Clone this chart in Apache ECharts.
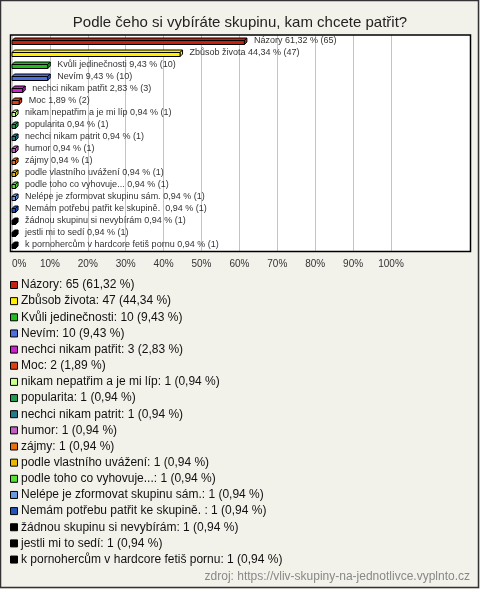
<!DOCTYPE html>
<html><head><meta charset="utf-8">
<script src="https://cdn.jsdelivr.net/npm/echarts@6/dist/echarts.min.js"></script>
<style>html,body{margin:0;padding:0;background:#f3f2ea;}#c{width:480px;height:589px;}</style>
</head><body><div id="c"></div>
<script>
const titleText = 'Podle čeho si vybíráte skupinu, kam chcete patřit?';
const sourceText = 'zdroj: https://vliv-skupiny-na-jednotlivce.vyplnto.cz';
const categories = ['Názory','Zbůsob života','Kvůli jedinečnosti','Nevím','nechci nikam patřit','Moc','nikam nepatřim a je mi líp','popularita','nechci nikam patrit','humor','zájmy','podle vlastního uvážení','podle toho co vyhovuje...','Nelépe je zformovat skupinu sám.','Nemám potřebu patřit ke skupině. ','žádnou skupinu si nevybírám','jestli mi to sedí','k pornohercům v hardcore fetiš pornu'];
const counts = [65,47,10,10,3,2,1,1,1,1,1,1,1,1,1,1,1,1];
const percents = [61.32,44.34,9.43,9.43,2.83,1.89,0.94,0.94,0.94,0.94,0.94,0.94,0.94,0.94,0.94,0.94,0.94,0.94];
const colors = ['#c8200e','#ffee00','#22bb22','#4a6fe0','#cc22cc','#e04010','#ccff88','#229955','#227a8a','#c060c0','#e87010','#e8b800','#55e033','#6a9ae0','#2255bb','#000000','#000000','#000000'];
const xTicks = [0,10,20,30,40,50,60,70,80,90,100];

const fmt = v => v.toFixed(2).replace('.', ',');
const chart = echarts.init(document.getElementById('c'), null, {renderer:'canvas'});

function renderBar(params, api) {
  const v = api.value(0), ci = api.value(1);
  const p0 = api.coord([0, ci]);
  const p1 = api.coord([v, ci]);
  const c = p0[1];
  const x0 = p0[0], x1 = p1[0];
  const d = 2.5;
  const yT = c - 0.5, yB = c + 3.5;
  const col = api.visual('color');
  const st = {fill: col, stroke: '#000', lineWidth: 1};
  return {type:'group', children:[
    {type:'polygon', shape:{points:[[x0,yT],[x0+d,yT-d],[x1+d,yT-d],[x1,yT]]}, style: st},
    {type:'polygon', shape:{points:[[x1,yT],[x1+d,yT-d],[x1+d,yB-d],[x1,yB]]}, style: st},
    {type:'rect', shape:{x:x0, y:yT, width:x1-x0, height:yB-yT}, style: st},
    {type:'text', x: x1 + d + 7, y: c, style:{text: categories[ci] + ' ' + fmt(v) + ' % (' + counts[ci] + ')', fill:'#333', font:'9px "Liberation Sans", Arial, sans-serif', verticalAlign:'middle', align:'left'}}
  ]};
}

const series = categories.map((name, i) => ({
  type: 'custom',
  name: name,
  renderItem: renderBar,
  itemStyle: {color: colors[i]},
  encode: {x: 0, y: 1},
  data: [[percents[i], i]],
  silent: true,
  clip: false
}));

chart.setOption({
  backgroundColor: '#f3f2ea',
  animation: false,
  title: {text: titleText, left: 'center', top: 10, textStyle:{fontFamily:'"Liberation Sans", Arial, sans-serif', fontSize:15, fontWeight:'normal', color:'#222'}},
  grid: {left: 12, top: 35, width: 379, height: 216},
  xAxis: {type:'value', min:0, max:100, interval:10,
    axisLine:{show:false}, axisTick:{show:false},
    splitLine:{show:true, lineStyle:{color:'#c4c4c4', width:1}},
    axisLabel:{formatter: v => v + '%', fontSize:10, color:'#333', fontFamily:'"Liberation Sans", Arial, sans-serif', margin:8, alignMinLabel:'left'}},
  yAxis: {type:'category', data: categories.map((c,i)=>i), inverse:true, show:false},
  legend: {
    orient:'vertical', left: 10, top: 277, padding:0, itemWidth:7, itemHeight:7, itemGap:0.15, icon:'rect', selectedMode:false,
    itemStyle:{borderColor:'#000', borderWidth:1},
    textStyle:{fontSize:12, color:'#111', lineHeight:16, fontFamily:'"Liberation Sans", Arial, sans-serif', padding:[0,0,0,-1.5]},
    formatter: name => { const i = categories.indexOf(name); return name + ': ' + counts[i] + ' (' + fmt(percents[i]) + ' %)'; },
    data: categories
  },
  graphic: [
    {type:'rect', z:-100, shape:{x:0.5, y:0.5, width:478, height:587}, style:{fill:'#f3f2ea', stroke:'#333', lineWidth:1.5}},
    {type:'rect', z:-90, shape:{x:10.5, y:35, width:460, height:216.5}, style:{fill:'#fff', stroke:'none'}},
    {type:'rect', z:100, shape:{x:10.5, y:35, width:460, height:216.5}, style:{fill:'none', stroke:'#000', lineWidth:1.5}},
    {type:'text', z:100, right: 10, top: 571, style:{text: sourceText, fill:'#888', font:'12px "Liberation Sans", Arial, sans-serif'}}
  ],
  series: series
});
</script></body></html>
